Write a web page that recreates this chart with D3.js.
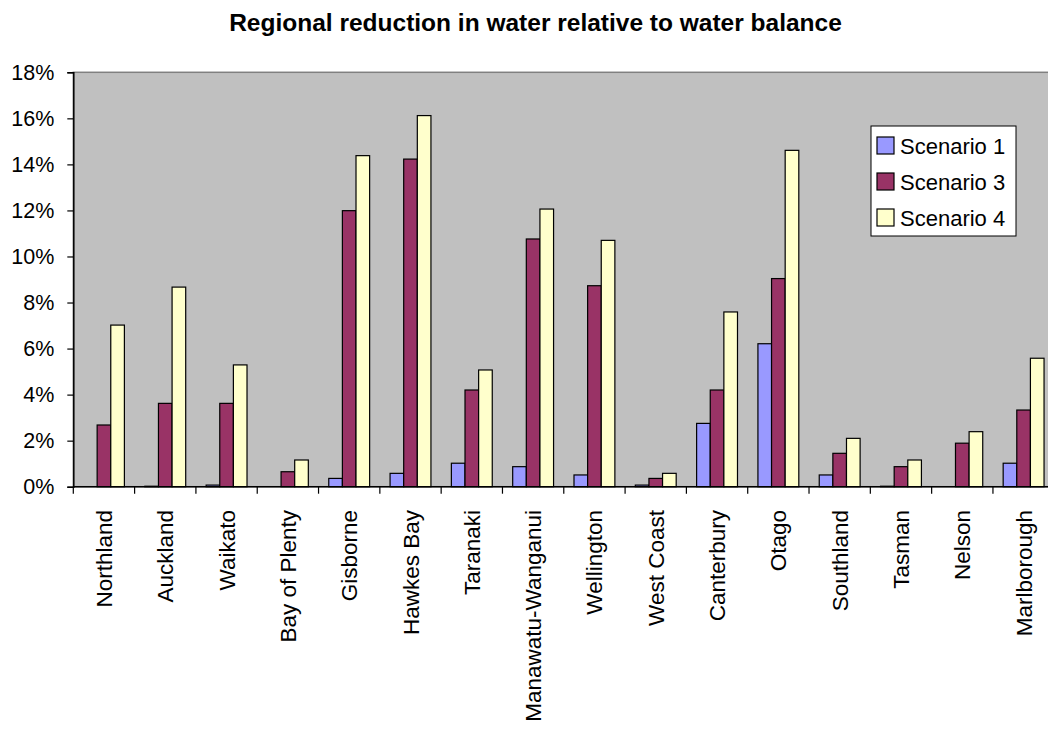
<!DOCTYPE html>
<html>
<head>
<meta charset="utf-8">
<script src="https://cdn.jsdelivr.net/npm/d3@7"></script>
<style>
  html, body { margin: 0; padding: 0; background: #fff; }
  svg { display: block; font-family: Arial, "Liberation Sans", sans-serif; }
</style>
</head>
<body>
<svg id="chart" width="1048" height="729"></svg>
<script>
const title = "Regional reduction in water relative to water balance";
const categories = ["Northland", "Auckland", "Waikato", "Bay of Plenty", "Gisborne", "Hawkes Bay",
  "Taranaki", "Manawatu-Wanganui", "Wellington", "West Coast", "Canterbury", "Otago",
  "Southland", "Tasman", "Nelson", "Marlborough"];
const seriesNames = ["Scenario 1", "Scenario 3", "Scenario 4"];
const scenario1 = [0.000, 0.0002, 0.0007, 0.000, 0.0036, 0.0058, 0.0102, 0.0087, 0.0051, 0.0007, 0.0275, 0.0621, 0.0051, 0.0002, 0.000, 0.0102];
const scenario3 = [0.0268, 0.0362, 0.0362, 0.0065, 0.1199, 0.1423, 0.0420, 0.1076, 0.0873, 0.0036, 0.0420, 0.0904, 0.0145, 0.0087, 0.0189, 0.0333];
const scenario4 = [0.0702, 0.0867, 0.0529, 0.0116, 0.1438, 0.1612, 0.0507, 0.1206, 0.1070, 0.0058, 0.0759, 0.1461, 0.0210, 0.0116, 0.0239, 0.0558];
const yTicks = [0, 0.02, 0.04, 0.06, 0.08, 0.10, 0.12, 0.14, 0.16, 0.18];
const colors = ["#9999FF", "#993366", "#FFFFCC"];

const svg = d3.select("#chart");
const pLeft = 73.3, pTop = 72.3, pBottom = 486.7, pRight = 73.3 + 16 * 61.31;

const x = d3.scaleBand().domain(categories).range([pLeft, pRight]).padding(0);
const bw = x.bandwidth();
const x1 = d3.scaleBand().domain(seriesNames).range([bw / 6, bw * 5 / 6]).padding(0);
const y = d3.scaleLinear().domain([0, 0.18]).range([pBottom, pTop]);

// plot area
svg.append("rect")
  .attr("x", pLeft).attr("y", pTop)
  .attr("width", pRight - pLeft).attr("height", pBottom - pTop)
  .attr("fill", "#C0C0C0").attr("stroke", "#808080").attr("stroke-width", 1.5);

// title
svg.append("text")
  .attr("x", 535.5).attr("y", 31)
  .attr("text-anchor", "middle")
  .attr("font-size", 24.5).attr("font-weight", "bold")
  .attr("fill", "#000")
  .text(title);

// bars
const data = [scenario1, scenario3, scenario4];
const groups = svg.append("g").selectAll("g")
  .data(categories)
  .join("g")
  .attr("transform", d => `translate(${x(d)},0)`);

groups.selectAll("rect")
  .data((d, i) => seriesNames.map((s, j) => ({ s, v: data[j][i], c: colors[j] })))
  .join("rect")
  .attr("x", d => x1(d.s))
  .attr("width", x1.bandwidth())
  .attr("y", d => y(d.v))
  .attr("height", d => y(0) - y(d.v))
  .attr("fill", d => d.c)
  .attr("stroke", "#000")
  .attr("stroke-width", d => d.v > 0 ? 1.2 : 0);

// y axis
const yAxis = svg.append("g")
  .attr("transform", `translate(${pLeft},0)`)
  .call(d3.axisLeft(y).tickValues(yTicks).tickFormat(d3.format(".0%")).tickSize(6).tickPadding(13));
yAxis.select(".domain").attr("stroke", "#000").attr("stroke-width", 1.5);
yAxis.selectAll(".tick line").attr("stroke", "#000").attr("stroke-width", 1.2);
yAxis.selectAll(".tick text")
  .attr("font-size", 21.5).attr("font-family", "Arial, 'Liberation Sans', sans-serif").attr("fill", "#000");

// x axis line
svg.append("line")
  .attr("x1", pLeft).attr("x2", pRight)
  .attr("y1", pBottom).attr("y2", pBottom)
  .attr("stroke", "#000").attr("stroke-width", 1.5);

// x ticks at band boundaries
const boundaries = categories.map(c => x(c)).concat([pRight]);
svg.append("g").selectAll("line")
  .data(boundaries)
  .join("line")
  .attr("x1", d => d).attr("x2", d => d)
  .attr("y1", pBottom).attr("y2", pBottom + 7)
  .attr("stroke", "#000").attr("stroke-width", 1.2);

// x labels
svg.append("g").selectAll("text")
  .data(categories)
  .join("text")
  .attr("transform", d => `translate(${x(d) + bw / 2 + 8},510) rotate(-90)`)
  .attr("text-anchor", "end")
  .attr("font-size", 22.5)
  .attr("fill", "#000")
  .text(d => d);

// legend
const lg = svg.append("g");
lg.append("rect")
  .attr("x", 871).attr("y", 126).attr("width", 145).attr("height", 110)
  .attr("fill", "#fff").attr("stroke", "#000").attr("stroke-width", 1);
const items = lg.selectAll("g.item")
  .data(seriesNames)
  .join("g")
  .attr("class", "item")
  .attr("transform", (d, i) => `translate(877,${137 + i * 36})`);
items.append("rect")
  .attr("width", 17).attr("height", 17)
  .attr("fill", (d, i) => colors[i])
  .attr("stroke", "#000").attr("stroke-width", 1.2);
items.append("text")
  .attr("x", 23).attr("y", 17)
  .attr("font-size", 22)
  .attr("fill", "#000")
  .text(d => d);
</script>
</body>
</html>
